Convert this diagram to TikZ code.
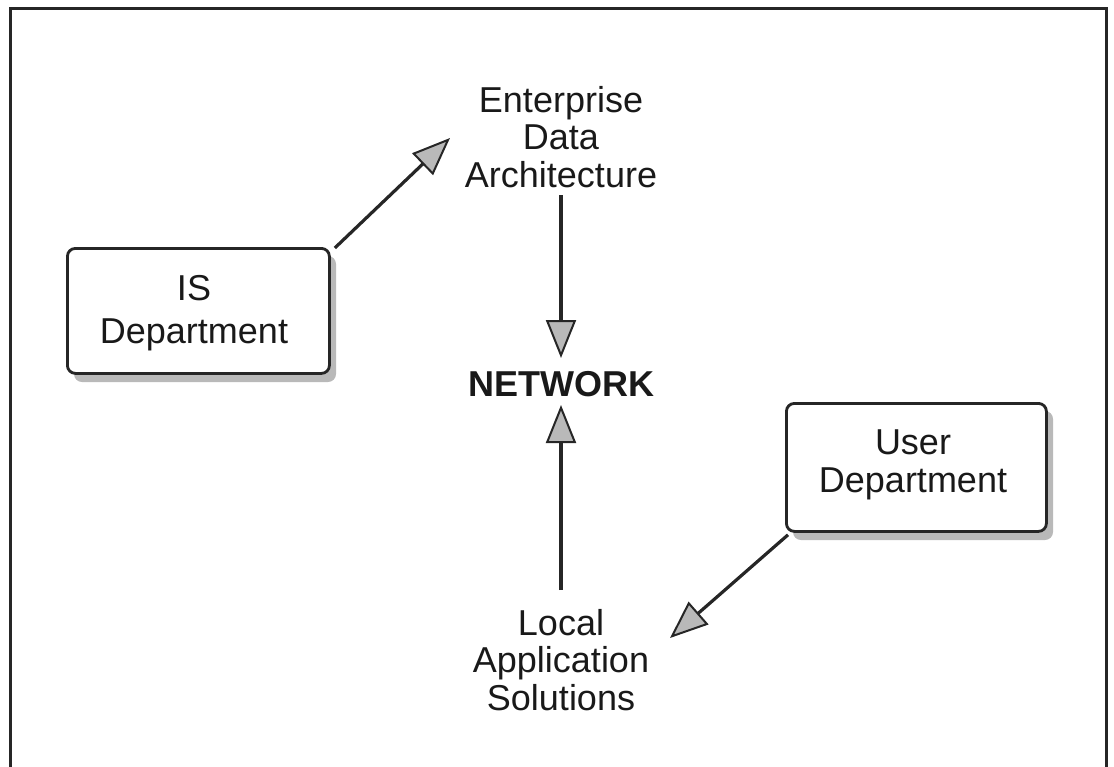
\documentclass[tikz,border=0pt]{standalone}
\usepackage{fontspec}
\setmainfont{Liberation Sans}
\usetikzlibrary{arrows.meta}
\begin{document}
\begin{tikzpicture}[x=0.5pt,y=-0.5pt,
  lbl/.style={inner sep=0pt,align=center,text=black!90,font=\fontsize{18}{18.75}\selectfont},
  deptbox/.style={draw=black!85,line width=1.4pt,rounded corners=4pt,fill=white},
  shadowbox/.style={fill=gray!55,rounded corners=4pt},
  conn/.style={draw=black!85,line width=1.6pt,
    -{Triangle[length=19pt,width=15pt,fill=gray!55,line width=1pt]}}]
\useasboundingbox (0,0) rectangle (1114,766);
% frame
\draw[line width=1.5pt,black!85] (10,780) -- (10,8) -- (1106,8) -- (1106,780);
% IS Department box
\fill[shadowbox] (74,256) rectangle (336,382);
\node[deptbox,minimum width=131pt,minimum height=62.5pt,anchor=north west] (isbox) at (66,247) {};
\node[lbl,font=\fontsize{18}{21.5}\selectfont] (istext) at (194,313) {IS\\Department};
% User Department box
\fill[shadowbox] (793,411) rectangle (1053,540);
\node[deptbox,minimum width=130pt,minimum height=64pt,anchor=north west] (userbox) at (785,402) {};
\node[lbl] (usertext) at (913,465) {User\\Department};
% labels
\node[lbl] (eda) at (561,137) {Enterprise\\Data\\Architecture};
\node[lbl,font=\fontsize{18}{18.75}\selectfont\bfseries] (net) at (561,384) {NETWORK};
\node[lbl] (las) at (561,660) {Local\\Application\\Solutions};
% connector end points
\coordinate (edatip) at (450,138);
\coordinate (edabot) at (561,195);
\coordinate (nettop) at (561,358);
\coordinate (netbot) at (561,405);
\coordinate (lastop) at (561,590);
\coordinate (lastip) at (670,638);
% connectors
\draw[conn] (isbox.north east) ++(4,1) -- (edatip);
\draw[conn] (edabot) -- (nettop);
\draw[conn] (lastop) -- (netbot);
\draw[conn] (userbox.south west) ++(3,2) -- (lastip);
\end{tikzpicture}
\end{document}
